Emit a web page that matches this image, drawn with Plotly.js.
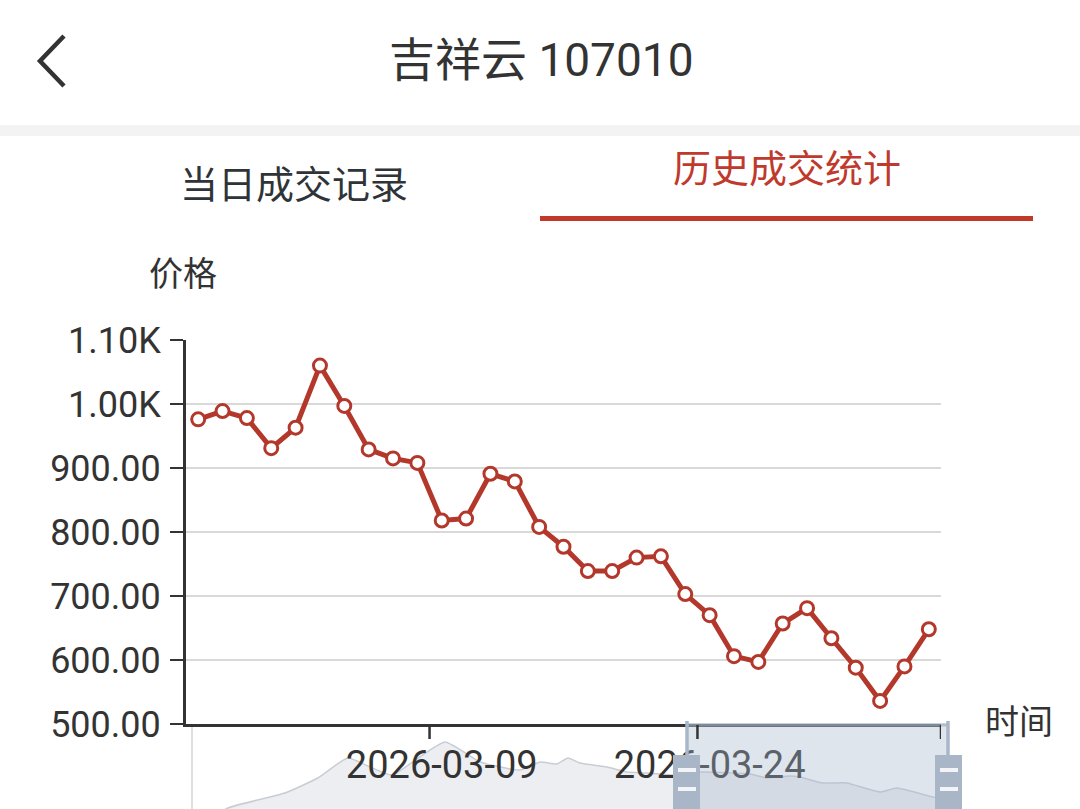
<!DOCTYPE html>
<html>
<head>
<meta charset="utf-8">
<script src="https://cdn.plot.ly/plotly-3.0.1.min.js"></script>
<style>
  html, body { margin: 0; padding: 0; background: #ffffff; }
  #chart { width: 1080px; height: 809px; }
</style>
</head>
<body>
<div id="chart"></div>
<script>
// ---------- data ----------
const dates = [
  '2026-02-23','2026-02-24','2026-02-25','2026-02-26','2026-02-27',
  '2026-03-02','2026-03-03','2026-03-04','2026-03-05','2026-03-06',
  '2026-03-09','2026-03-10','2026-03-11','2026-03-12','2026-03-13',
  '2026-03-16','2026-03-17','2026-03-18','2026-03-19','2026-03-20',
  '2026-03-23','2026-03-24','2026-03-25','2026-03-26','2026-03-27',
  '2026-03-30','2026-03-31','2026-04-01','2026-04-02','2026-04-03',
  '2026-04-06'
];
const prices = [
  976, 989, 978, 931, 963,
  1060, 997, 929, 915, 908,
  818, 821, 891, 879, 808,
  777, 739, 739, 760, 762,
  703, 670, 606, 597, 657,
  681, 634, 588, 536, 590,
  648
];
const xTickLabels = ['2026-03-09', '2026-03-24'];
const yTickVals = [500, 600, 700, 800, 900, 1000, 1100];
const yTickText = ['500.00', '600.00', '700.00', '800.00', '900.00', '1.00K', '1.10K'];
// category boundaries where the axis ticks sit
const xTickBoundaries = [9.5, 20.5, 30.5];

// overview (data-zoom slider) series: position along slider (%) and relative level
const overviewPos = [0, 4.8, 12.4, 16.8, 20.8, 23.8, 26.7, 30.4, 33.8, 38.5, 43.8, 46.5, 48.7, 50.2,
  51.8, 55.4, 58.1, 60.7, 64.2, 68.2, 74.5, 76.8, 79.8, 81.2, 84.2, 87.4, 91.9, 94.1, 98.9, 100];
const overviewVal = [-21, 1, 16, 31, 51, 42, 34, 52, 67, 47, 39, 47, 45, 51,
  46, 42, 37, 36, 34, 37, 35, 31, 33, 32, 26, 26, 17, 21, 12, 11];

// ---------- helpers (pixel -> paper) ----------
const W = 1080, H = 809;
const px = x => x / W;
const py = y => 1 - y / H;

const FONT = "Roboto, 'Noto Sans CJK SC', sans-serif";
const CJK = "'Noto Sans CJK SC', Roboto, sans-serif";
const RED = '#b3382b';

const traces = [
  {
    // overview lives on the first subplot so the main axis labels draw above it
    type: 'scatter', mode: 'lines',
    x: overviewPos, y: overviewVal,
    xaxis: 'x', yaxis: 'y',
    fill: 'tozeroy', fillcolor: '#eceef1',
    line: { color: '#c9cdd3', width: 1.5, shape: 'spline', smoothing: 0.5 },
    hoverinfo: 'skip', showlegend: false
  },
  {
    type: 'scatter', mode: 'lines+markers',
    x: dates, y: prices,
    xaxis: 'x2', yaxis: 'y2',
    line: { color: RED, width: 5 },
    marker: { size: 13, color: '#ffffff', line: { color: RED, width: 3 } },
    cliponaxis: false,
    showlegend: false
  }
];

const shapes = [];
// header chevron
shapes.push({ type: 'path', xref: 'paper', yref: 'paper',
  path: `M ${px(64)} ${py(36)} L ${px(40)} ${py(61)} L ${px(64)} ${py(86)}`,
  line: { color: '#333333', width: 4.5 } });
// separator band
shapes.push({ type: 'rect', xref: 'paper', yref: 'paper',
  x0: 0, x1: 1, y0: py(136), y1: py(125), fillcolor: '#f3f3f3', line: { width: 0 } });
// active tab underline
shapes.push({ type: 'rect', xref: 'paper', yref: 'paper',
  x0: px(540), x1: px(1033), y0: py(221), y1: py(216), fillcolor: '#c0392b', line: { width: 0 } });
// slider left border
shapes.push({ type: 'line', xref: 'paper', yref: 'paper',
  x0: px(192), x1: px(192), y0: py(727), y1: 0, line: { color: '#d4d4d4', width: 1.5 } });
// slider selected window
shapes.push({ type: 'rect', xref: 'paper', yref: 'paper', layer: 'above',
  x0: px(687), x1: px(948), y0: 0, y1: py(723),
  fillcolor: 'rgba(167,183,204,0.36)', line: { width: 0 } });
shapes.push({ type: 'line', xref: 'paper', yref: 'paper', layer: 'above',
  x0: px(687), x1: px(948), y0: py(725), y1: py(725),
  line: { color: 'rgba(150,165,185,0.6)', width: 3 } });
// x-axis ticks at category boundaries
xTickBoundaries.forEach(b => {
  shapes.push({ type: 'line', xref: 'x2', yref: 'paper', layer: 'above',
    x0: b, x1: b, y0: py(725), y1: py(739), line: { color: '#333333', width: 2.5 } });
});
// slider handles
[[687, 673, 700], [948, 935, 962]].forEach(([cx, l, r]) => {
  shapes.push({ type: 'line', xref: 'paper', yref: 'paper', layer: 'above',
    x0: px(cx), x1: px(cx), y0: py(721), y1: py(757), line: { color: '#a9b6c8', width: 3.5 } });
  shapes.push({ type: 'rect', xref: 'paper', yref: 'paper', layer: 'above',
    x0: px(l), x1: px(r), y0: 0, y1: py(755), fillcolor: '#a9b6c8', line: { width: 0 } });
  shapes.push({ type: 'rect', xref: 'paper', yref: 'paper', layer: 'above',
    x0: px(l + 5), x1: px(r - 4), y0: py(772), y1: py(768), fillcolor: 'rgba(255,255,255,0.85)', line: { width: 0 } });
  shapes.push({ type: 'rect', xref: 'paper', yref: 'paper', layer: 'above',
    x0: px(l + 5), x1: px(r - 4), y0: py(791), y1: py(787), fillcolor: 'rgba(255,255,255,0.85)', line: { width: 0 } });
});

const annotations = [
  { text: '吉祥云 107010', xref: 'paper', yref: 'paper', x: px(541), y: py(60),
    xanchor: 'center', yanchor: 'middle', showarrow: false,
    font: { family: FONT, size: 46, color: '#333333' } },
  { text: '当日成交记录', xref: 'paper', yref: 'paper', x: px(294), y: py(181),
    xanchor: 'center', yanchor: 'middle', showarrow: false,
    font: { family: CJK, size: 38, color: '#2f3438' } },
  { text: '历史成交统计', xref: 'paper', yref: 'paper', x: px(787), y: py(166),
    xanchor: 'center', yanchor: 'middle', showarrow: false,
    font: { family: CJK, size: 38, color: '#bf3a2c' } },
  { text: '价格', xref: 'paper', yref: 'paper', x: px(183), y: py(271),
    xanchor: 'center', yanchor: 'middle', showarrow: false,
    font: { family: CJK, size: 34, color: '#333333' } },
  { text: '时间', xref: 'paper', yref: 'paper', x: px(1019), y: py(719),
    xanchor: 'center', yanchor: 'middle', showarrow: false,
    font: { family: CJK, size: 34, color: '#333333' } }
];

const layout = {
  width: W, height: H,
  margin: { l: 0, r: 0, t: 0, b: 0 },
  paper_bgcolor: '#ffffff', plot_bgcolor: 'rgba(0,0,0,0)',
  showlegend: false,
  xaxis: {
    domain: [px(192), px(941)], range: [0, 100],
    visible: false, anchor: 'y', fixedrange: true
  },
  yaxis: {
    domain: [0, py(727)], range: [0, 82],
    visible: false, anchor: 'x', fixedrange: true
  },
  xaxis2: {
    type: 'category',
    domain: [px(186), px(941)],
    range: [-0.5, dates.length - 0.5],
    categoryorder: 'array', categoryarray: dates,
    tickmode: 'array', tickvals: xTickLabels, ticktext: xTickLabels,
    ticks: '', showgrid: false, zeroline: false,
    showline: true, linecolor: '#333333', linewidth: 3,
    tickfont: { family: FONT, size: 38, color: '#333333' },
    ticklabelstandoff: 5,
    anchor: 'y2', fixedrange: true
  },
  yaxis2: {
    domain: [py(724), py(340)],
    range: [500, 1100],
    tickmode: 'array', tickvals: yTickVals, ticktext: yTickText,
    ticks: 'outside', ticklen: 13, tickwidth: 2.5, tickcolor: '#333333',
    showgrid: true, gridcolor: '#d9d9d9', gridwidth: 2.5,
    zeroline: false,
    showline: true, linecolor: '#333333', linewidth: 3,
    tickfont: { family: FONT, size: 36, color: '#333333' },
    ticklabelstandoff: 2,
    anchor: 'x2', fixedrange: true
  },
  shapes: shapes,
  annotations: annotations
};

Plotly.newPlot('chart', traces, layout, { displayModeBar: false, staticPlot: true });
</script>
</body>
</html>
